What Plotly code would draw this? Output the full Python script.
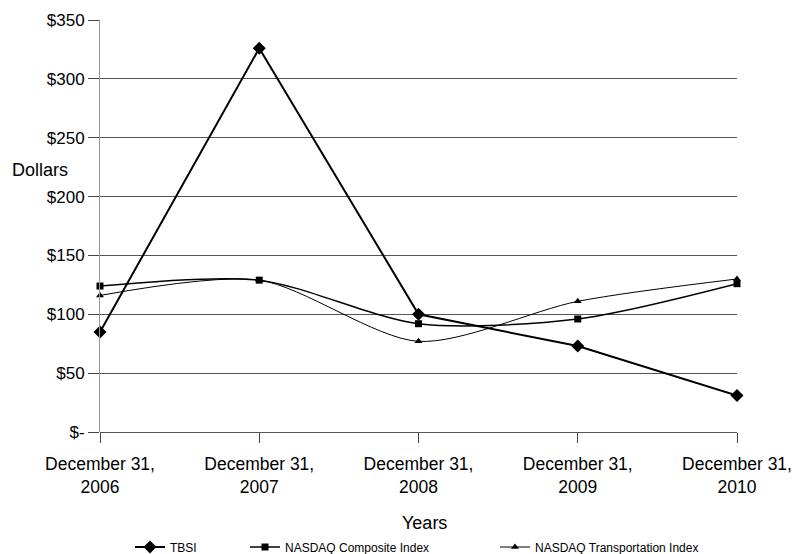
import plotly.graph_objects as go

categories = ["December 31,<br>2006", "December 31,<br>2007", "December 31,<br>2008",
              "December 31,<br>2009", "December 31,<br>2010"]
tbsi = [85, 326, 100, 73, 31]
nasdaq_comp = [124, 129, 92, 96, 126]
nasdaq_trans = [116, 129, 77, 111, 130]
y_ticks = [0, 50, 100, 150, 200, 250, 300, 350]
y_labels = ["$-", "$50", "$100", "$150", "$200", "$250", "$300", "$350"]

x = list(range(len(categories)))
font = "Liberation Sans, Arial, sans-serif"

fig = go.Figure()
fig.add_trace(go.Scatter(x=x, y=tbsi, name="TBSI", mode="lines+markers",
                         line=dict(color="black", width=2),
                         marker=dict(symbol="diamond", size=10, color="black"),
                         cliponaxis=False, legend="legend"))
fig.add_trace(go.Scatter(x=x, y=nasdaq_comp, name="NASDAQ Composite Index", mode="lines+markers",
                         line=dict(color="black", width=1.5, shape="spline", smoothing=0.8),
                         marker=dict(symbol="square", size=7, color="black"),
                         cliponaxis=False, legend="legend2"))
fig.add_trace(go.Scatter(x=x, y=nasdaq_trans, name="NASDAQ Transportation Index", mode="lines+markers",
                         line=dict(color="black", width=1, shape="spline", smoothing=0.8),
                         marker=dict(symbol="triangle-up", size=7, color="black"),
                         cliponaxis=False, legend="legend3"))

# plot area in page pixels: x 100..737, y 20..432
def px_x(p):
    return (p - 100) / 637.0

def px_y(p):
    return (432 - p) / 412.0

leg_common = dict(orientation="h", yanchor="middle", xanchor="left",
                  font=dict(size=12, family=font), bgcolor="rgba(0,0,0,0)")

fig.update_layout(
    width=794, height=554,
    margin=dict(l=100, r=57, t=20, b=122, autoexpand=False),
    paper_bgcolor="white", plot_bgcolor="white",
    font=dict(family=font, size=17, color="black"),
    showlegend=True,
    legend=dict(x=px_x(130), y=px_y(547), **leg_common),
    legend2=dict(x=px_x(245), y=px_y(547), **leg_common),
    legend3=dict(x=px_x(495), y=px_y(547), **leg_common),
    xaxis=dict(range=[0, 4], tickvals=x, ticktext=categories, showgrid=False,
               ticks="outside", ticklen=10, tickcolor="#444", showline=False,
               zeroline=False, tickfont=dict(size=17.5), automargin=False,
               ticklabelstandoff=6),
    yaxis=dict(range=[0, 350], tickvals=y_ticks, ticktext=y_labels,
               showgrid=True, gridcolor="#555", gridwidth=1,
               ticks="outside", ticklen=11, tickcolor="#444",
               showline=True, linecolor="#999", linewidth=1,
               zeroline=True, zerolinecolor="#555", zerolinewidth=1,
               tickfont=dict(size=17), automargin=False),
)
fig.add_annotation(text="Dollars", x=px_x(10), xref="paper", xanchor="left",
                   y=px_y(170), yref="paper", yanchor="middle", showarrow=False,
                   font=dict(size=18))
fig.add_annotation(text="Years", x=px_x(424), xref="paper", xanchor="center",
                   y=px_y(523), yref="paper", yanchor="middle", showarrow=False,
                   font=dict(size=18))
fig.write_html("out.html",
               config={"displayModeBar": False},
               post_script="document.body.style.margin='0';document.body.style.overflow='hidden';")
